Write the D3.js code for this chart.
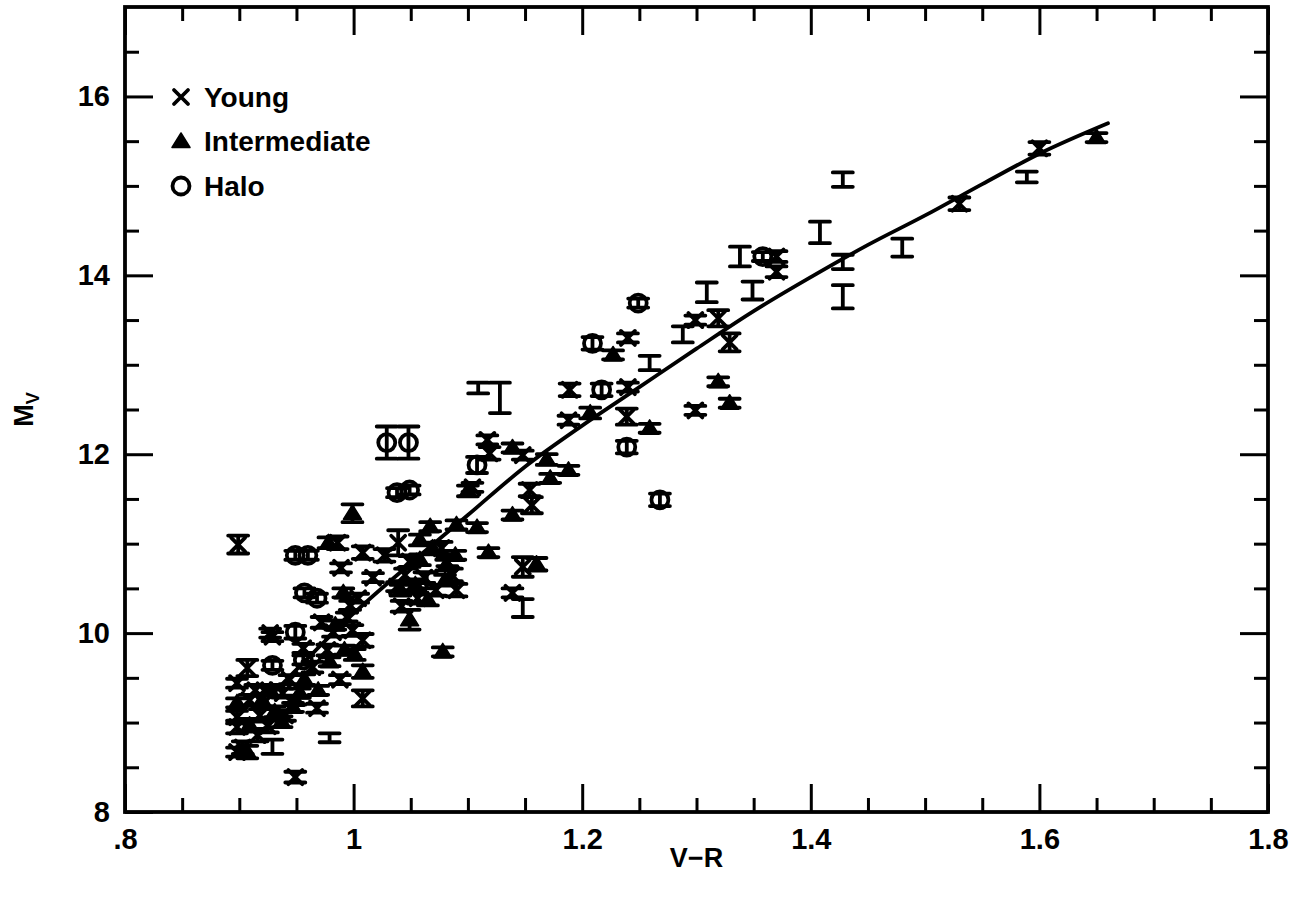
<!DOCTYPE html>
<html>
<head>
<meta charset="utf-8">
<script src="https://cdn.jsdelivr.net/npm/d3@7"></script>
<style>
  body { margin: 0; background: #fff; }
  svg { display: block; }
  text { font-family: "Liberation Sans", Arial, sans-serif; font-weight: bold; fill: #000; }
</style>
</head>
<body>
<svg id="chart" width="1301" height="899"></svg>
<script>
// Young disk stars: V-R colour, absolute magnitude M_V, 1-sigma error in M_V
const youngVR = [1.600, 1.530, 1.370, 1.370, 1.299, 1.319, 1.329, 1.240, 1.240, 1.239,
  1.299, 1.189, 1.188, 1.117, 1.119, 1.148, 1.104, 1.154, 1.156, 1.148,
  1.139, 1.039, 1.008, 1.027, 0.989, 1.017, 0.986, 0.899, 1.038, 0.929,
  1.008, 1.008, 0.988, 0.949, 0.903, 0.898, 0.898, 0.898, 0.898, 0.968,
  0.927, 0.938, 0.907, 0.918, 0.925, 1.090, 1.077, 1.049, 1.062, 1.056,
  1.042, 1.072, 1.082, 0.972, 0.982, 0.994, 0.956, 0.964, 0.977, 0.997,
  1.004, 0.914, 0.909, 0.916, 0.940, 0.944, 0.922, 1.086, 1.045, 0.999];
const youngMV = [15.42, 14.80, 14.21, 14.04, 13.50, 13.52, 13.25, 13.30, 12.75, 12.42,
  12.49, 12.72, 12.38, 12.16, 12.01, 11.99, 11.63, 11.60, 11.43, 10.74,
  10.45, 11.01, 10.90, 10.87, 10.73, 10.62, 11.01, 10.99, 10.52, 9.96,
  9.92, 9.27, 9.48, 8.39, 8.72, 9.44, 9.06, 8.95, 8.67, 9.16,
  10.00, 9.33, 9.61, 9.08, 8.96, 10.48, 10.95, 10.80, 10.62, 10.39,
  10.30, 10.48, 10.80, 10.12, 10.01, 10.18, 9.83, 9.62, 9.81, 10.31,
  10.39, 9.36, 9.25, 8.86, 9.08, 9.48, 9.36, 10.65, 10.65, 10.03];
const youngErr = [0.07, 0.07, 0.06, 0.06, 0.05, 0.09, 0.10, 0.05, 0.05, 0.09,
  0.05, 0.07, 0.05, 0.05, 0.07, 0.05, 0.05, 0.07, 0.09, 0.11,
  0.05, 0.14, 0.07, 0.07, 0.05, 0.05, 0.07, 0.10, 0.05, 0.05,
  0.07, 0.09, 0.05, 0.06, 0.07, 0.05, 0.07, 0.07, 0.05, 0.05,
  0.05, 0.05, 0.09, 0.07, 0.07, 0.07, 0.07, 0.06, 0.06, 0.06,
  0.06, 0.06, 0.05, 0.06, 0.05, 0.05, 0.05, 0.06, 0.06, 0.05,
  0.05, 0.06, 0.06, 0.07, 0.06, 0.05, 0.06, 0.07, 0.07, 0.06];

// Intermediate-population stars
const interVR = [1.650, 1.319, 1.329, 1.227, 1.207, 1.259, 1.188, 1.139, 1.169, 1.172,
  1.100, 1.139, 1.090, 1.108, 1.067, 1.118, 1.160, 0.999, 0.978, 0.991,
  1.049, 1.078, 1.008, 0.898, 0.947, 0.907, 1.069, 1.058, 1.081, 1.089,
  1.054, 1.065, 1.058, 0.957, 0.969, 0.920, 0.931, 0.953, 0.979, 0.992,
  0.927, 0.937, 0.909, 0.949, 1.080, 1.041, 0.984, 1.001];
const interMV = [15.54, 12.81, 12.57, 13.11, 12.46, 12.29, 11.82, 12.07, 11.94, 11.73,
  11.59, 11.32, 11.21, 11.18, 11.19, 10.90, 10.77, 11.34, 11.01, 10.45,
  10.15, 9.79, 9.57, 9.22, 9.17, 8.67, 10.95, 10.82, 10.76, 10.87,
  10.54, 10.37, 11.04, 9.48, 9.36, 9.25, 9.12, 9.33, 9.68, 9.81,
  9.36, 9.01, 8.97, 9.25, 10.59, 10.48, 10.09, 9.76];
const interErr = [0.05, 0.05, 0.05, 0.05, 0.06, 0.05, 0.05, 0.05, 0.06, 0.05,
  0.06, 0.05, 0.05, 0.05, 0.05, 0.05, 0.07, 0.10, 0.06, 0.05,
  0.11, 0.05, 0.07, 0.05, 0.05, 0.07, 0.06, 0.06, 0.06, 0.05,
  0.06, 0.06, 0.06, 0.06, 0.05, 0.07, 0.06, 0.05, 0.05, 0.05,
  0.06, 0.06, 0.07, 0.05, 0.06, 0.06, 0.05, 0.06];

// Halo stars
const haloVR = [1.358, 1.249, 1.209, 1.217, 1.239, 1.268, 1.029, 1.048, 1.038, 1.049,
  1.108, 0.949, 0.960, 0.957, 0.968, 0.949, 0.929, 0.956];
const haloMV = [14.21, 13.69, 13.24, 12.72, 12.08, 11.49, 12.13, 12.13, 11.57, 11.60,
  11.88, 10.87, 10.87, 10.45, 10.39, 10.01, 9.64, 9.70];
const haloErr = [0.05, 0.05, 0.07, 0.07, 0.07, 0.07, 0.18, 0.18, 0.05, 0.05,
  0.09, 0.05, 0.05, 0.05, 0.05, 0.07, 0.05, 0.05];

// Stars without a population assignment (error bar only)
const otherVR = [1.589, 1.480, 1.408, 1.428, 1.428, 1.428, 1.338, 1.309, 1.349, 1.288,
  1.259, 1.109, 1.128, 1.148, 0.929, 0.979, 1.064];
const otherMV = [15.10, 14.31, 14.48, 14.15, 13.76, 15.07, 14.21, 13.81, 13.83, 13.34,
  13.02, 12.74, 12.63, 10.28, 8.73, 8.83, 10.59];
const otherErr = [0.06, 0.10, 0.12, 0.08, 0.13, 0.08, 0.11, 0.11, 0.10, 0.09,
  0.08, 0.06, 0.17, 0.10, 0.08, 0.05, 0.09];

// Mean colour-magnitude relation
const fitVR = [0.92, 0.96, 1.00, 1.05, 1.10, 1.15, 1.20, 1.25, 1.30, 1.35, 1.40, 1.45, 1.50, 1.55, 1.60, 1.66];
const fitMV = [9.20, 9.72, 10.22, 10.78, 11.32, 11.86, 12.32, 12.75, 13.18, 13.60, 13.98, 14.34, 14.67, 15.02, 15.36, 15.70];

// Axis ticks
const xMajor = [0.8, 1.0, 1.2, 1.4, 1.6, 1.8];
const xMajorLabels = [".8", "1", "1.2", "1.4", "1.6", "1.8"];
const yMajor = [8, 10, 12, 14, 16];
const yMajorLabels = ["8", "10", "12", "14", "16"];

const legendNames = ["Young", "Intermediate", "Halo"];
const legendTypes = ["cross", "triangle", "circle"];

// ---------------------------------------------------------------
const svg = d3.select("#chart");
const x = d3.scaleLinear().domain([0.8, 1.8]).range([125, 1268]);
const y = d3.scaleLinear().domain([8, 17]).range([812, 7]);

const STROKE = 3.8;
const MAJ = 28, MIN = 14;
const FONT = "Liberation Sans, Arial, sans-serif";

const xMinor = d3.range(17, 36).map(i => i * 0.05).filter(v => Math.abs(v * 5 - Math.round(v * 5)) > 1e-6);
const yMinor = d3.range(17, 34).map(i => i * 0.5).filter(v => v % 2 !== 0);

function styleAxis(g) {
  g.select(".domain").remove();
  g.selectAll(".tick line").attr("stroke", "#000").attr("stroke-width", 3);
}
function styleLabels(g) {
  g.selectAll("text").attr("font-size", 29).attr("font-family", FONT).attr("font-weight", "bold").attr("fill", "#000");
}

// major + minor ticks on all four sides, pointing inward
const axes = svg.append("g");
axes.append("g").attr("transform", "translate(0,812)")
  .call(d3.axisBottom(x).tickValues(xMajor).tickSizeInner(-MAJ).tickSizeOuter(0)
    .tickPadding(16).tickFormat((d, i) => xMajorLabels[i]))
  .call(styleAxis).call(styleLabels);
axes.append("g").attr("transform", "translate(0,812)")
  .call(d3.axisBottom(x).tickValues(xMinor).tickSizeInner(-MIN).tickSizeOuter(0).tickFormat(""))
  .call(styleAxis);
axes.append("g").attr("transform", "translate(0,7)")
  .call(d3.axisTop(x).tickValues(xMajor).tickSizeInner(-MAJ).tickSizeOuter(0).tickFormat(""))
  .call(styleAxis);
axes.append("g").attr("transform", "translate(0,7)")
  .call(d3.axisTop(x).tickValues(xMinor).tickSizeInner(-MIN).tickSizeOuter(0).tickFormat(""))
  .call(styleAxis);
axes.append("g").attr("transform", "translate(125,0)")
  .call(d3.axisLeft(y).tickValues(yMajor).tickSizeInner(-MAJ).tickSizeOuter(0)
    .tickPadding(15).tickFormat((d, i) => yMajorLabels[i]))
  .call(styleAxis).call(styleLabels);
axes.append("g").attr("transform", "translate(125,0)")
  .call(d3.axisLeft(y).tickValues(yMinor).tickSizeInner(-MIN).tickSizeOuter(0).tickFormat(""))
  .call(styleAxis);
axes.append("g").attr("transform", "translate(1268,0)")
  .call(d3.axisRight(y).tickValues(yMajor).tickSizeInner(-MAJ).tickSizeOuter(0).tickFormat(""))
  .call(styleAxis);
axes.append("g").attr("transform", "translate(1268,0)")
  .call(d3.axisRight(y).tickValues(yMinor).tickSizeInner(-MIN).tickSizeOuter(0).tickFormat(""))
  .call(styleAxis);

// plot frame
svg.append("rect")
  .attr("x", x(0.8)).attr("y", y(17))
  .attr("width", x(1.8) - x(0.8)).attr("height", y(8) - y(17))
  .attr("fill", "none").attr("stroke", "#000").attr("stroke-width", 3.8);

// axis titles
svg.append("text").attr("x", (x(0.8) + x(1.8)) / 2).attr("y", 867)
  .attr("text-anchor", "middle").attr("font-size", 27).text("V\u2212R");
const yt = svg.append("text").attr("transform", `translate(33,${(y(8) + y(17)) / 2}) rotate(-90)`)
  .attr("text-anchor", "middle").attr("font-size", 27);
yt.append("tspan").text("M");
yt.append("tspan").attr("font-size", 18).attr("dy", 6).text("V");

// ---------------------------------------------------------------
const plot = svg.append("g");

function drawMarker(g, type, cx, cy) {
  if (type === "cross") {
    const s = 7;
    g.append("path").attr("d", `M${cx - s},${cy - s}L${cx + s},${cy + s}M${cx - s},${cy + s}L${cx + s},${cy - s}`)
      .attr("stroke", "#000").attr("stroke-width", STROKE).attr("stroke-linecap", "round").attr("fill", "none");
  } else if (type === "triangle") {
    g.append("path").attr("d", `M${cx},${cy - 8.5}L${cx + 9},${cy + 6}L${cx - 9},${cy + 6}Z`)
      .attr("fill", "#000").attr("stroke", "#000").attr("stroke-width", 1.5).attr("stroke-linejoin", "round");
  } else if (type === "circle") {
    g.append("circle").attr("cx", cx).attr("cy", cy).attr("r", 8.5)
      .attr("fill", "none").attr("stroke", "#000").attr("stroke-width", STROKE);
  }
}

function drawErrorBar(g, vr, mv, err) {
  const cx = x(vr), y1 = y(mv - err), y2 = y(mv + err), w = 10;
  g.append("path")
    .attr("d", `M${cx},${y1}L${cx},${y2}M${cx - w},${y1}L${cx + w},${y1}M${cx - w},${y2}L${cx + w},${y2}`)
    .attr("stroke", "#000").attr("stroke-width", STROKE).attr("stroke-linecap", "round").attr("fill", "none");
}

const groups = [
  { vr: otherVR, mv: otherMV, err: otherErr, type: null },
  { vr: haloVR, mv: haloMV, err: haloErr, type: "circle" },
  { vr: interVR, mv: interMV, err: interErr, type: "triangle" },
  { vr: youngVR, mv: youngMV, err: youngErr, type: "cross" }
];
groups.forEach(s => {
  s.vr.forEach((v, i) => {
    drawErrorBar(plot, v, s.mv[i], s.err[i]);
    if (s.type) drawMarker(plot, s.type, x(v), y(s.mv[i]));
  });
});

// fitted relation
const line = d3.line().x(d => x(d[0])).y(d => y(d[1])).curve(d3.curveMonotoneX);
plot.append("path")
  .attr("d", line(fitVR.map((v, i) => [v, fitMV[i]])))
  .attr("fill", "none").attr("stroke", "#000").attr("stroke-width", STROKE).attr("stroke-linecap", "round");

// legend
const legend = svg.append("g");
legendNames.forEach((name, i) => {
  const cy = 97 + i * 44.5;
  drawMarker(legend, legendTypes[i], 181, cy);
  legend.append("text").attr("x", 204).attr("y", cy + 9.5).attr("font-size", 28).text(name);
});
</script>
</body>
</html>
